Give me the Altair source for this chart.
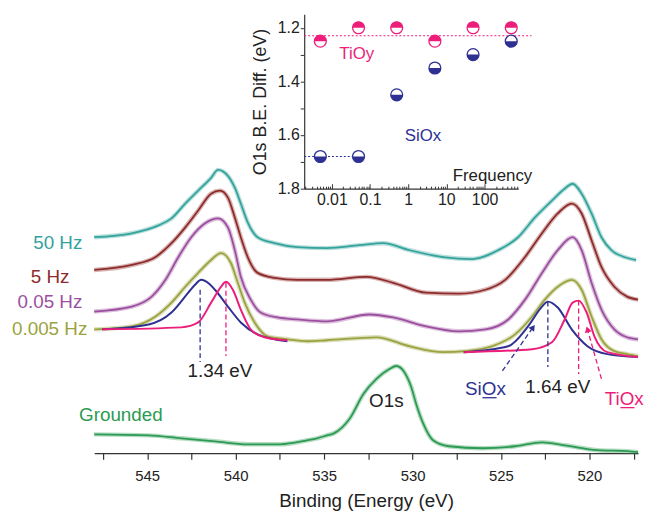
import altair as alt
import pandas as pd

# ---------------- main panel: O1s spectra (binding energy eV, offset intensity a.u.)
E_50 = [548.0, 545.87, 544.36, 543.63, 542.85, 542.12, 541.39, 541.00, 540.44, 540.05, 539.71,
        539.32, 538.76, 537.81, 536.52, 534.84, 532.99, 531.65, 530.19, 528.28, 526.60, 525.15,
        524.03, 523.08, 522.12, 521.40, 520.95, 520.44, 519.88, 519.32, 518.76, 518.03, 517.36]
I_50 = [218, 222, 230, 237, 252, 265, 278, 286, 280, 268, 252,
        233, 218, 212, 208, 207, 210, 212, 205, 198, 196, 205,
        218, 238, 255, 267, 272, 262, 242, 218, 205, 198, 195]

E_5 = [548.0, 545.87, 544.53, 543.63, 542.85, 542.12, 541.39, 540.89, 540.44, 540.05, 539.71,
       539.32, 538.76, 537.81, 536.52, 534.84, 532.60, 531.09, 529.24, 527.39, 525.88, 524.76,
       523.64, 522.68, 521.79, 521.00, 520.44, 519.88, 519.32, 518.59, 517.87, 517.25]
I_5 = [185, 190, 198, 212, 228, 245, 262, 265, 258, 238, 218,
       198, 182, 177, 175, 175, 178, 172, 162, 161, 165, 175,
       198, 222, 242, 252, 242, 215, 188, 168, 158, 155]

E_005 = [548.0, 545.87, 544.75, 543.97, 543.24, 542.51, 541.73, 541.00, 540.44, 540.05, 539.71,
         539.15, 538.59, 537.64, 536.52, 534.84, 532.43, 531.09, 529.24, 527.39, 525.88, 524.59,
         523.64, 522.68, 521.79, 520.95, 520.44, 519.88, 519.32, 518.59, 517.87, 517.25]
I_005 = [143, 148, 158, 175, 198, 218, 232, 237, 228, 205, 178,
         155, 142, 137, 135, 133, 140, 137, 128, 123, 125, 135,
         155, 182, 205, 218, 205, 172, 145, 125, 117, 115]

E_0005 = [548.0, 545.87, 544.53, 543.63, 542.85, 542.12, 541.39, 540.83, 540.27, 539.88, 539.49,
          538.93, 538.20, 537.08, 535.96, 534.84, 532.04, 530.19, 528.28, 527.00, 525.48, 524.20,
          523.24, 522.52, 521.79, 521.00, 520.44, 519.88, 519.32, 518.59, 517.87, 517.25]
I_0005 = [125, 128, 138, 152, 168, 182, 195, 202, 192, 172, 152,
          132, 118, 115, 113, 114, 117, 108, 102, 103, 108, 120,
          138, 155, 168, 175, 165, 138, 115, 103, 100, 98]

E_GND = [548.0, 544.92, 543.07, 541.17, 539.32, 537.47, 535.96, 535.40, 534.84, 534.45, 533.55,
         532.77, 532.04, 531.31, 530.92, 530.47, 530.08, 529.80, 529.40, 528.84, 527.95, 526.04,
         524.20, 522.68, 521.40, 519.55, 517.87, 517.25]
I_GND = [19, 18, 15, 12, 9, 9, 13, 15, 18, 20, 35,
         60, 75, 85, 88, 82, 67, 50, 30, 13, 7, 5,
         7, 11, 8, 3, 2, 1]

# fitted components (0.005 Hz)
FIT_BL_E = [547.55, 544.92, 543.63, 542.68, 542.30, 541.95, 541.50, 541.17, 540.44, 539.71, 538.76, 537.08]
FIT_BL_I = [125, 130, 142, 162, 170, 175, 171, 165, 148, 132, 120, 113]
FIT_PL_E = [547.55, 543.07, 542.12, 541.39, 540.83, 540.55, 540.16, 539.71, 539.15, 538.37, 537.08]
FIT_PL_I = [125, 127, 132, 152, 168, 173, 165, 145, 125, 117, 114]
FIT_BR_E = [527.11, 524.59, 523.47, 522.68, 522.35, 521.79, 521.00, 520.11, 518.99, 517.25]
FIT_BR_I = [102, 108, 128, 148, 153, 147, 125, 108, 100, 97]
FIT_PR_E = [527.11, 523.24, 522.12, 521.40, 520.95, 520.61, 520.16, 519.72, 518.99, 517.25]
FIT_PR_I = [102, 105, 112, 135, 152, 154, 142, 118, 102, 97]

# dashed peak markers
VL_E = [542.01, 540.55, 522.35, 520.61]
VL_TOP = [165, 172, 153, 154]
VL_BOT = [92, 98, 87, 80]
VL_C = ["#2e3192", "#ec1e79", "#2e3192", "#ec1e79"]

# dashed arrows
AR_E1 = [524.92, 519.32]
AR_I1 = [83, 75]
AR_E2 = [523.19, 520.11]
AR_I2 = [127, 125]
AR_ANG = [35, 344]
AR_C = ["#2e3192", "#ec1e79"]

# underlines under "O"
UL_E1 = [526.05, 518.25]
UL_E2 = [525.25, 517.45]
UL_I = [56, 46]
UL_C = ["#2e3192", "#ec1e79"]

# annotations (centered)
TX_T = ["1.34 eV", "1.64 eV", "SiOx", "TiOx", "O1s", "Grounded"]
TX_E = [540.89, 521.79, 525.88, 518.03, 531.48, 546.49]
TX_I = [83, 67, 65, 55, 53, 38]
TX_C = ["#222222", "#222222", "#2e3192", "#ec1e79", "#222222", "#2c9a52"]

# series labels (right aligned)
LB_T = ["50 Hz", "5 Hz", "0.05 Hz", "0.005 Hz"]
LB_E = [548.67, 549.40, 548.67, 548.39]
LB_I = [212, 178, 153, 125]
LB_C = ["#33a39c", "#8e2b2b", "#9c4f9f", "#9aa33f"]

X_TICKS = [547.5, 545, 542.5, 540, 537.5, 535, 532.5, 530, 527.5, 525, 522.5, 520, 517.5]

# ---------------- inset: O1s B.E. difference vs frequency
FREQ = [0.005, 0.05, 0.5, 5, 50, 500]
TIOY = [1.25, 1.20, 1.20, 1.25, 1.20, 1.20]
SIOX = [1.68, 1.68, 1.45, 1.35, 1.30, 1.25]
FREQ_TICKS = [0.01, 0.1, 1, 10, 100]
FREQ_MINOR = [m * 10.0 ** e for e in (-3, -2, -1, 0, 1, 2) for m in range(2, 10)]
FREQ_MINOR = [v for v in FREQ_MINOR if v < 760]
IN_T = ["TiOy", "SiOx", "Frequency"]
IN_F = [0.0448, 2.45, 161]
IN_V = [1.298, 1.604, 1.752]
IN_C = ["#ec1e79", "#2e3192", "#222222"]

TEAL, DRED, PURP, OLIV, GRN = "#33a39c", "#8e2b2b", "#9c4f9f", "#9aa33f", "#2c9a52"
NAVY, PINK = "#2e3192", "#ec1e79"
FONT = "Liberation Sans"
AX = "#333333"

X_DOM = [548.0, 517.25]
Y_DOM = [0, 447]
F_DOM = [0.00189, 760]
F_RANGE = [212, 428]
V_DOM = [1.15, 1.8]
V_RANGE = [4, 180]


def xm(field="e", axis=None):
    return alt.X(f"{field}:Q", scale=alt.Scale(domain=X_DOM, nice=False, zero=False), axis=axis)


def ym(field="i"):
    return alt.Y(f"{field}:Q", scale=alt.Scale(domain=Y_DOM, nice=False, zero=False), axis=None)


def xi(axis=None):
    return alt.X("f:Q", scale=alt.Scale(type="log", domain=F_DOM, range=F_RANGE, nice=False, zero=False), axis=axis)


def yi(axis=None):
    return alt.Y("v:Q", scale=alt.Scale(domain=V_DOM, range=V_RANGE, nice=False, zero=False), axis=axis)


main_axis = alt.Axis(
    orient="bottom", values=X_TICKS, labelExpr="datum.value % 5 == 0 ? datum.label : ''",
    tickSize=6, tickWidth=1.2, tickColor=AX, domainColor=AX, domainWidth=1.2, grid=False,
    labelFont=FONT, labelFontSize=15, labelColor="#222", labelPadding=10, labelOverlap=False, labelFlush=False,
    title="Binding (Energy (eV)", titleFont=FONT, titleFontSize=19, titleFontWeight="normal",
    titleColor="#222", titlePadding=8,
)

layers = []
spectra = [(E_50, I_50, TEAL), (E_5, I_5, DRED), (E_005, I_005, PURP), (E_0005, I_0005, OLIV), (E_GND, I_GND, GRN)]
for k, (E, I, c) in enumerate(spectra):
    df = pd.DataFrame({"e": E, "i": I})
    base = alt.Chart(df)
    layers.append(base.mark_line(color=c, strokeWidth=4.5, opacity=0.35, interpolate="monotone")
                  .encode(x=xm(), y=ym()))
    layers.append(base.mark_line(color=c, strokeWidth=1.8, interpolate="monotone")
                  .encode(x=xm(axis=main_axis if k == 4 else None), y=ym()))

for E, I, c in [(FIT_BL_E, FIT_BL_I, NAVY), (FIT_PL_E, FIT_PL_I, PINK),
                (FIT_BR_E, FIT_BR_I, NAVY), (FIT_PR_E, FIT_PR_I, PINK)]:
    df = pd.DataFrame({"e": E, "i": I})
    layers.append(alt.Chart(df).mark_line(color=c, strokeWidth=2, interpolate="monotone")
                  .encode(x=xm(), y=ym()))

df_vl = pd.DataFrame({"e": VL_E, "i": VL_TOP, "i2": VL_BOT, "c": VL_C})
layers.append(alt.Chart(df_vl).mark_rule(strokeDash=[5, 3], strokeWidth=1.3)
              .encode(x=xm(), y=ym(), y2="i2:Q", color=alt.Color("c:N", scale=None)))

df_ar = pd.DataFrame({"e": AR_E1, "i": AR_I1, "e2": AR_E2, "i2": AR_I2, "a": AR_ANG, "c": AR_C})
layers.append(alt.Chart(df_ar).mark_rule(strokeDash=[5, 3], strokeWidth=1.3)
              .encode(x=xm(), x2="e2:Q", y=ym(), y2="i2:Q", color=alt.Color("c:N", scale=None)))
layers.append(alt.Chart(df_ar).mark_point(shape="triangle-up", filled=True, size=50, opacity=1)
              .encode(x=xm("e2"), y=ym("i2"), angle=alt.Angle("a:Q", scale=None),
                      color=alt.Color("c:N", scale=None)))

df_ul = pd.DataFrame({"e": UL_E1, "e2": UL_E2, "i": UL_I, "c": UL_C})
layers.append(alt.Chart(df_ul).mark_rule(strokeWidth=1.3)
              .encode(x=xm(), x2="e2:Q", y=ym(), color=alt.Color("c:N", scale=None)))

df_tx = pd.DataFrame({"t": TX_T, "e": TX_E, "i": TX_I, "c": TX_C})
layers.append(alt.Chart(df_tx).mark_text(font=FONT, fontSize=19, align="center", baseline="middle")
              .encode(x=xm(), y=ym(), text="t:N", color=alt.Color("c:N", scale=None)))

df_lb = pd.DataFrame({"t": LB_T, "e": LB_E, "i": LB_I, "c": LB_C})
layers.append(alt.Chart(df_lb).mark_text(font=FONT, fontSize=19, align="right", baseline="middle")
              .encode(x=xm(), y=ym(), text="t:N", color=alt.Color("c:N", scale=None)))

# ---------------- inset layers
y_axis_in = alt.Axis(
    orient="left", offset=-212, values=[1.2, 1.3, 1.4, 1.5, 1.6, 1.7, 1.8],
    labelExpr="round(datum.value*10) % 2 == 0 ? format(datum.value, '.1f') : ''",
    tickSize=4, tickColor=AX, domainColor=AX, domainWidth=1.2, grid=False,
    labelFont=FONT, labelFontSize=16, labelColor="#222", labelPadding=1, labelOverlap=False, labelFlush=False,
    title="O1s B.E. Diff. (eV)", titleFont=FONT, titleFontSize=18, titleFontWeight="normal",
    titleColor="#222", titlePadding=8,
)
x_axis_major = alt.Axis(orient="top", offset=-180, values=FREQ_TICKS, labels=False, tickSize=5,
                        tickColor=AX, domainColor=AX, domainWidth=1.2, grid=False, title=None)
x_axis_minor = alt.Axis(orient="top", offset=-180, values=FREQ_MINOR, labels=False, tickSize=2.5,
                        tickColor=AX, domain=False, grid=False, title=None)
x_axis_labels = alt.Axis(orient="bottom", offset=-267, values=FREQ_TICKS, ticks=False, tickSize=0,
                         domain=False, grid=False, title=None, labelExpr="format(datum.value, '~g')",
                         labelFont=FONT, labelFontSize=16, labelColor="#222", labelPadding=3,
                         labelOverlap=False, labelFlush=False)

df_ref_t = pd.DataFrame({"f": [0.00189], "f2": [1700], "v": [1.23]})
df_ref_s = pd.DataFrame({"f": [0.00189], "f2": [0.05], "v": [1.68]})
layers.append(alt.Chart(df_ref_t).mark_rule(color=PINK, strokeDash=[2, 2], strokeWidth=1.1)
              .encode(x=xi(axis=x_axis_minor), x2="f2:Q", y=yi()))
layers.append(alt.Chart(df_ref_s).mark_rule(color=NAVY, strokeDash=[2, 2], strokeWidth=1.1)
              .encode(x=xi(axis=x_axis_labels), x2="f2:Q", y=yi()))

TOP_HALF = "M-1,0A1,1,0,0,1,1,0Z"
BOT_HALF = "M-1,0A1,1,0,0,0,1,0Z"
df_t = pd.DataFrame({"f": FREQ, "v": TIOY})
df_s = pd.DataFrame({"f": FREQ, "v": SIOX})
layers.append(alt.Chart(df_t).mark_point(shape="circle", size=144, filled=True, fill="white",
                                         stroke=PINK, strokeWidth=1.3, opacity=1)
              .encode(x=xi(axis=x_axis_major), y=yi(axis=y_axis_in)))
layers.append(alt.Chart(df_t).mark_point(shape=TOP_HALF, size=144, filled=True, fill=PINK,
                                         strokeWidth=0, opacity=1)
              .encode(x=xi(), y=yi()))
layers.append(alt.Chart(df_s).mark_point(shape="circle", size=144, filled=True, fill="white",
                                         stroke=NAVY, strokeWidth=1.3, opacity=1)
              .encode(x=xi(), y=yi()))
layers.append(alt.Chart(df_s).mark_point(shape=BOT_HALF, size=144, filled=True, fill=NAVY,
                                         strokeWidth=0, opacity=1)
              .encode(x=xi(), y=yi()))

df_in = pd.DataFrame({"t": IN_T, "f": IN_F, "v": IN_V, "c": IN_C})
layers.append(alt.Chart(df_in).mark_text(font=FONT, fontSize=17, align="center", baseline="middle")
              .encode(x=xi(), y=yi(), text="t:N", color=alt.Color("c:N", scale=None)))

chart = (
    alt.layer(*layers)
    .resolve_scale(x="independent", y="independent")
    .properties(width=549, height=447, background="white",
                padding={"left": 87, "top": 0, "right": 6, "bottom": 60},
                autosize=alt.AutoSizeParams(type="none"))
    .configure_view(stroke=None)
)

chart.save("out.html", embed_options={"renderer": "svg", "actions": False})
